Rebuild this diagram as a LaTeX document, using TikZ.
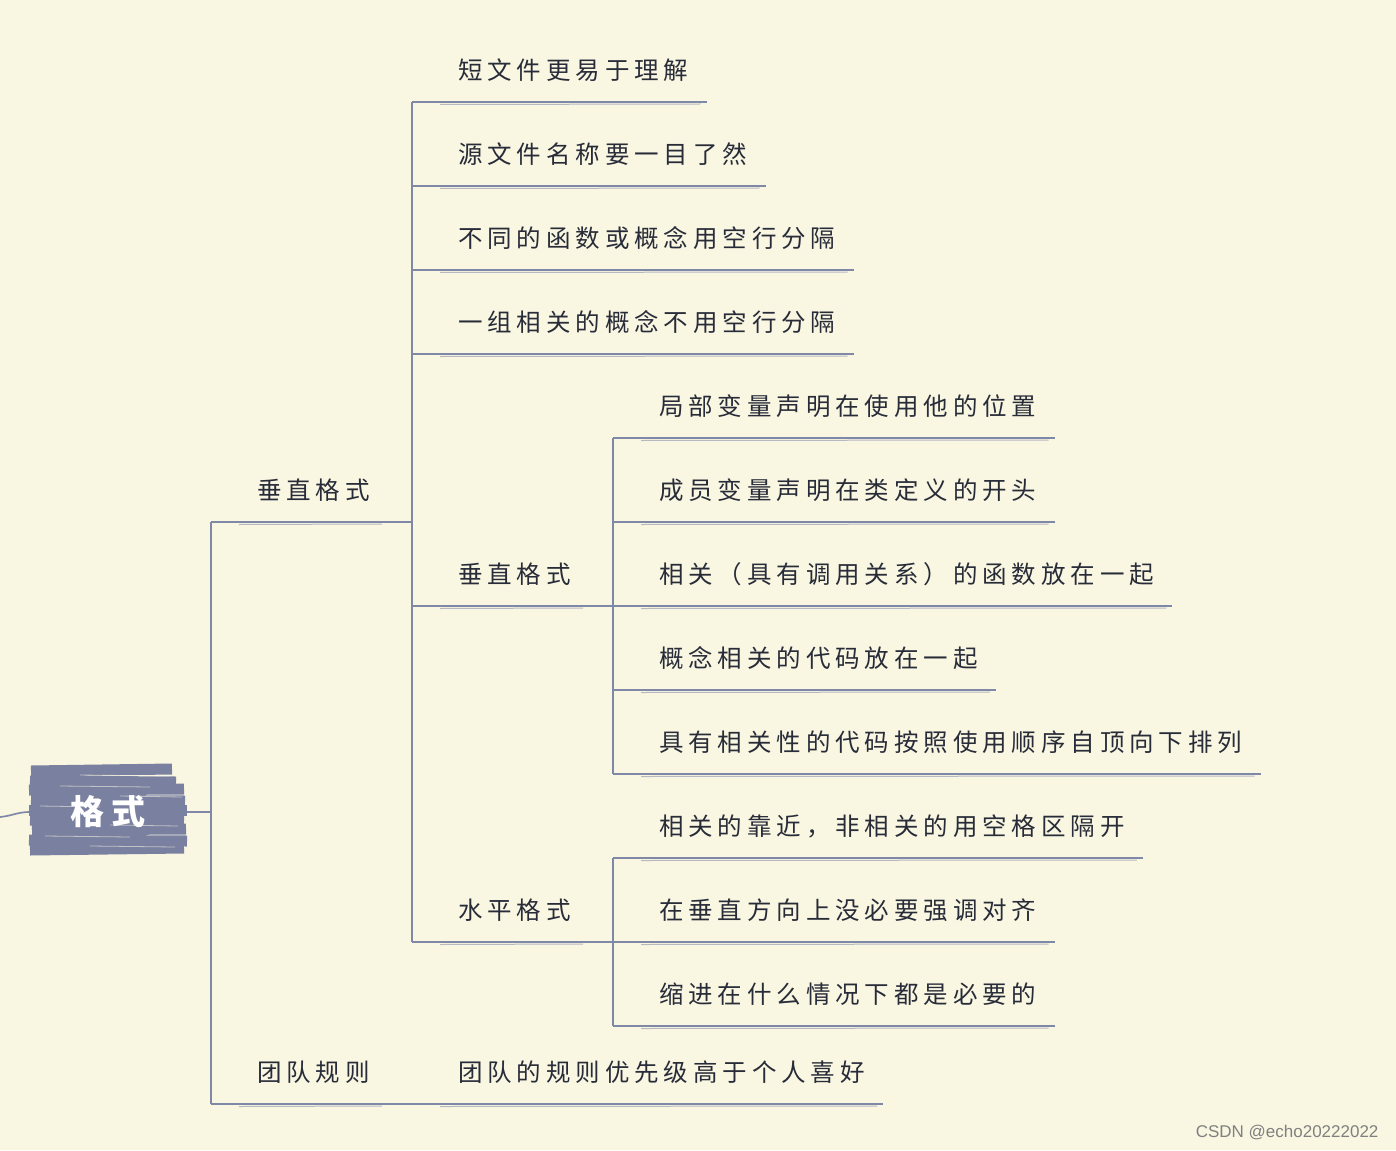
\documentclass[tikz,border=0pt]{standalone}
\usepackage{fontspec}
\newfontfamily\cjk[LetterSpace=20]{Noto Sans CJK SC}
\newfontfamily\wmfont{Liberation Sans}
\usetikzlibrary{calc}

\definecolor{paper}{RGB}{249,246,226}
\definecolor{linec}{RGB}{128,136,168}
\definecolor{rootc}{RGB}{122,129,160}
\definecolor{inkc}{RGB}{40,44,56}

\tikzset{
  ln/.style={draw=linec, line width=1.7pt},
  sk/.style={draw=linec, line width=1pt, opacity=.55},
  item/.style={anchor=south west, inner xsep=18pt, inner ysep=0pt, text depth=22pt,
    text=inkc, font=\cjk\fontsize{24.5pt}{28pt}\selectfont},
  rootnode/.style={minimum width=157pt, minimum height=93pt, inner sep=0pt,
    text=white, font=\cjk\bfseries\fontsize{34pt}{40pt}\selectfont},
  scribble/.style={draw=rootc, line width=11pt, line cap=butt},
}

\begin{document}
\begin{tikzpicture}[x=1pt, y=-1pt]
  \fill[paper] (0,0) rectangle (1396,1150);
  \useasboundingbox (0,0) rectangle (1396,1150);

  % trunk positions
  \coordinate (k1) at (211,0);
  \coordinate (k2) at (412,0);
  \coordinate (k3) at (613,0);
  \coordinate (src) at (0,817);

  % root
  \foreach \y/\l/\r/\d in {771/31/172/-2, 781/30/176/1, 790/29/184/-1, 800/31/185/1,
                           810/29/187/0, 820/30/184/1, 830/32/186/-1, 840/29/187/1, 850/30/184/-2}
    \draw[scribble] (\l,\y) -- (\r,\y+\d);
  \foreach \y/\l/\r in {775/80/170, 786/60/150, 796/120/182, 806/40/100,
                        825/110/178, 836/45/130, 846/90/175}
    \draw[paper, line width=0.8pt, opacity=.55] (\l,\y) -- (\r,\y+1);
  \node[rootnode] (root) at (108,812) {格式};

  % level 1
  \node[item] (v) at (239,522) {垂直格式};
  \node[item] (t) at (239,1104) {团队规则};

  % level 2
  \node[item] (a1) at (440,102) {短文件更易于理解};
  \node[item] (a2) at (440,186) {源文件名称要一目了然};
  \node[item] (a3) at (440,270) {不同的函数或概念用空行分隔};
  \node[item] (a4) at (440,354) {一组相关的概念不用空行分隔};
  \node[item] (a5) at (440,606) {垂直格式};
  \node[item] (a6) at (440,942) {水平格式};
  \node[item] (b1) at (440,1104) {团队的规则优先级高于个人喜好};

  % level 3
  \node[item] (c1) at (641,438) {局部变量声明在使用他的位置};
  \node[item] (c2) at (641,522) {成员变量声明在类定义的开头};
  \node[item] (c3) at (641,606) {相关（具有调用关系）的函数放在一起};
  \node[item] (c4) at (641,690) {概念相关的代码放在一起};
  \node[item] (c5) at (641,774) {具有相关性的代码按照使用顺序自顶向下排列};
  \node[item] (d1) at (641,858) {相关的靠近，非相关的用空格区隔开};
  \node[item] (d2) at (641,942) {在垂直方向上没必要强调对齐};
  \node[item] (d3) at (641,1026) {缩进在什么情况下都是必要的};

  % connectors
  \draw[ln] (src) to[out=5, in=180] (root.west);
  \draw[ln] (root.east) -- (root.east -| k1);
  \draw[ln] (v.south -| k1) -- (t.south -| k1);
  \draw[ln] (a1.south -| k2) -- (a6.south -| k2);
  \draw[ln] (c1.south -| k3) -- (c5.south -| k3);
  \draw[ln] (d1.south -| k3) -- (d3.south -| k3);
  \draw[ln] (v.south east) -- (v.south east -| k2);
  \draw[ln] (a5.south east) -- (a5.south east -| k3);
  \draw[ln] (a6.south east) -- (a6.south east -| k3);
  \draw[ln] (t.south east) -- (b1.south west);

  % underlines
  \foreach \n/\k in {v/k1, t/k1, a1/k2, a2/k2, a3/k2, a4/k2, a5/k2, a6/k2, b1/b1.south west,
                     c1/k3, c2/k3, c3/k3, c4/k3, c5/k3, d1/k3, d2/k3, d3/k3} {
    \draw[ln] (\n.south -| \k) -- (\n.south east);
    \draw[sk] ([yshift=-2.5pt]\n.south west) -- ([xshift=-6pt, yshift=-2pt]\n.south east);
  }

  % watermark
  \node[anchor=east, text=gray, font=\wmfont\fontsize{17pt}{20pt}\selectfont] (wm)
    at (1382,1133) {CSDN @echo20222022};
\end{tikzpicture}
\end{document}
